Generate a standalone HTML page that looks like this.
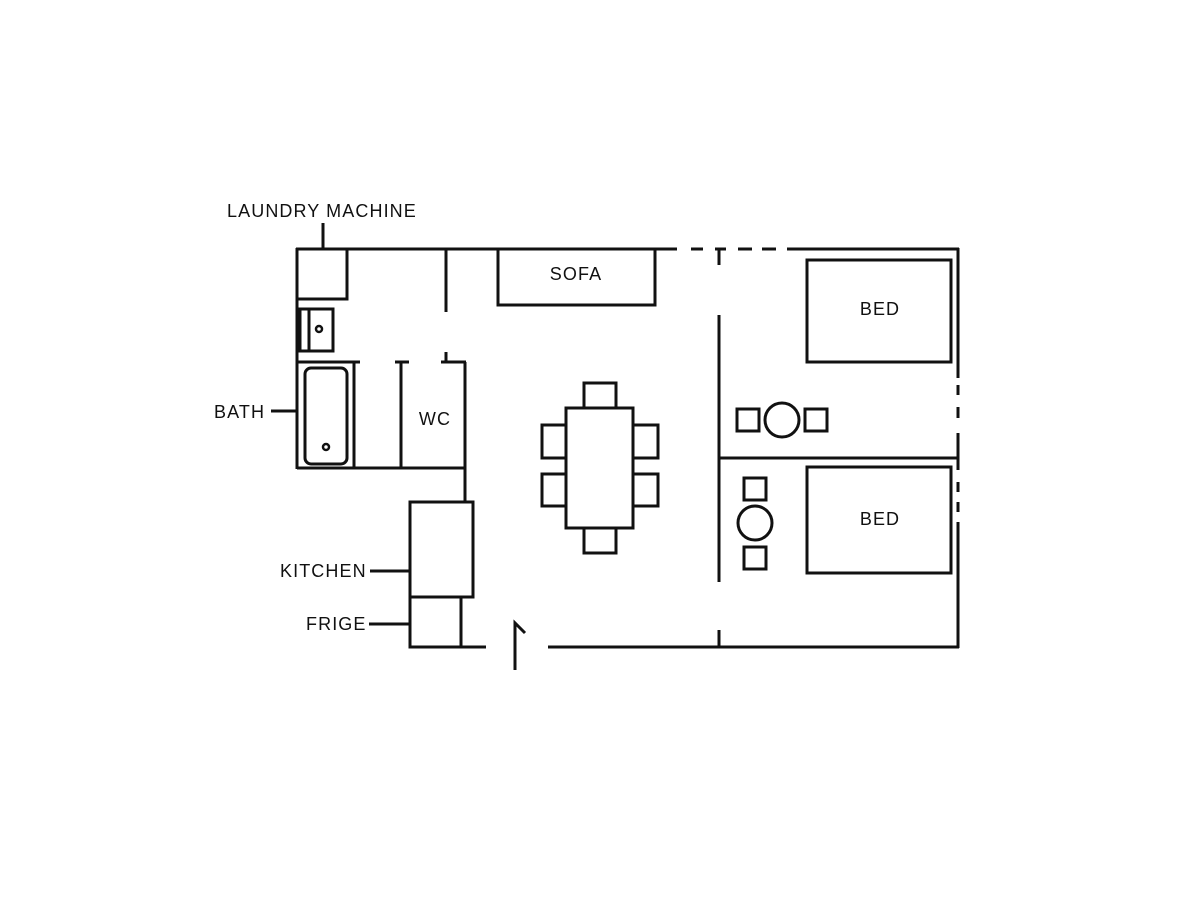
<!DOCTYPE html>
<html><head><meta charset="utf-8"><style>
html,body{margin:0;padding:0;background:#fff;}
svg{display:block;}
text{font-family:"Liberation Sans",sans-serif;font-size:18px;fill:#111;letter-spacing:1.1px;}
</style></head><body>
<svg width="1200" height="900" viewBox="0 0 1200 900" xmlns="http://www.w3.org/2000/svg">
<g stroke="#111" stroke-width="3" fill="none" stroke-linecap="butt">
<line x1="296" y1="249" x2="677" y2="249"/>
<line x1="691" y1="249" x2="703" y2="249"/>
<line x1="715" y1="249" x2="726" y2="249"/>
<line x1="738" y1="249" x2="752" y2="249"/>
<line x1="762" y1="249" x2="776" y2="249"/>
<line x1="787" y1="249" x2="959" y2="249"/>
<line x1="297" y1="248" x2="297" y2="469"/>
<polyline points="297,299 347,299 347,249"/>
<line x1="323" y1="223" x2="323" y2="249"/>
<rect x="300" y="309" width="33" height="42"/>
<line x1="309" y1="309" x2="309" y2="351"/>
<circle cx="319" cy="329" r="3" stroke-width="2.5"/>
<line x1="446" y1="249" x2="446" y2="312"/>
<line x1="446" y1="352" x2="446" y2="362"/>
<line x1="297" y1="362" x2="360" y2="362"/>
<line x1="354" y1="362" x2="354" y2="468"/>
<rect x="305" y="368" width="42" height="96" rx="6"/>
<circle cx="326" cy="447" r="3" stroke-width="2.5"/>
<line x1="271" y1="411" x2="297" y2="411"/>
<line x1="297" y1="468" x2="466" y2="468"/>
<line x1="395" y1="362" x2="409" y2="362"/>
<line x1="401" y1="362" x2="401" y2="468"/>
<line x1="441" y1="362" x2="466" y2="362"/>
<line x1="465" y1="362" x2="465" y2="502"/>
<rect x="410" y="502" width="63" height="95"/>
<line x1="370" y1="571" x2="410" y2="571"/>
<polyline points="410,597 410,647 461,647 461,597"/>
<line x1="369" y1="624" x2="410" y2="624"/>
<line x1="410" y1="647" x2="486" y2="647"/>
<line x1="548" y1="647" x2="959" y2="647"/>
<polyline points="515,670 515,623 525,633"/>
<polyline points="498,249 498,305 655,305 655,249"/>
<rect x="566" y="408" width="67" height="120"/>
<rect x="584" y="383" width="32" height="25"/>
<rect x="584" y="528" width="32" height="25"/>
<rect x="542" y="425" width="24" height="33"/>
<rect x="542" y="474" width="24" height="32"/>
<rect x="633" y="425" width="25" height="33"/>
<rect x="633" y="474" width="25" height="32"/>
<line x1="719" y1="249" x2="719" y2="265"/>
<line x1="719" y1="315" x2="719" y2="582"/>
<line x1="719" y1="630" x2="719" y2="647"/>
<line x1="719" y1="458" x2="958" y2="458"/>
<line x1="958" y1="248" x2="958" y2="378"/>
<line x1="958" y1="385" x2="958" y2="395"/>
<line x1="958" y1="407" x2="958" y2="418"/>
<line x1="958" y1="433" x2="958" y2="470"/>
<line x1="958" y1="482" x2="958" y2="492"/>
<line x1="958" y1="502" x2="958" y2="512"/>
<line x1="958" y1="522" x2="958" y2="648"/>
<rect x="807" y="260" width="144" height="102"/>
<rect x="807" y="467" width="144" height="106"/>
<rect x="737" y="409" width="22" height="22"/>
<circle cx="782" cy="420" r="17"/>
<rect x="805" y="409" width="22" height="22"/>
<rect x="744" y="478" width="22" height="22"/>
<circle cx="755" cy="523" r="17"/>
<rect x="744" y="547" width="22" height="22"/>
</g>
<text x="227" y="217">LAUNDRY MACHINE</text>
<text x="214" y="418">BATH</text>
<text x="435" y="425" text-anchor="middle">WC</text>
<text x="576" y="280" text-anchor="middle">SOFA</text>
<text x="880" y="315" text-anchor="middle">BED</text>
<text x="880" y="525" text-anchor="middle">BED</text>
<text x="280" y="577">KITCHEN</text>
<text x="306" y="630">FRIGE</text>
</svg>
</body></html>
